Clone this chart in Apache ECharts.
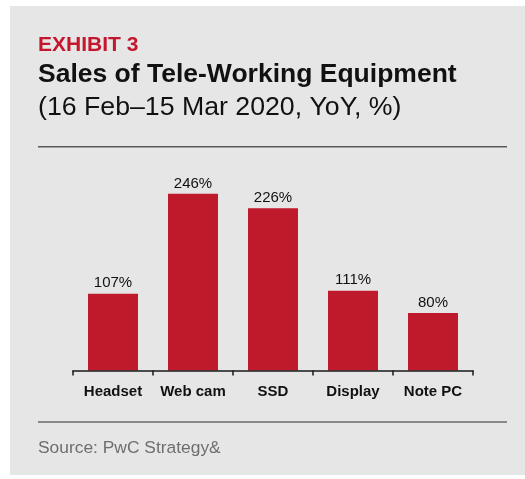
<!DOCTYPE html>
<html>
<head>
<meta charset="utf-8">
<style>
  html, body { margin: 0; padding: 0; background: #ffffff; }
  #chart { width: 525px; height: 479px; }
</style>
<script src="https://cdn.jsdelivr.net/npm/echarts@6/dist/echarts.min.js"></script>
</head>
<body>
<div id="chart"></div>
<script>
// Year-on-year sales growth of tele-working equipment, 16 Feb–15 Mar 2020
const categories = ['Headset', 'Web cam', 'SSD', 'Display', 'Note PC'];
const growthPct = [107, 246, 226, 111, 80];

const exhibitLabel = 'EXHIBIT 3';
const titleText = 'Sales of Tele-Working Equipment';
const subtitleText = '(16 Feb\u201315 Mar 2020, YoY, %)';
const sourceText = 'Source: PwC Strategy&';

const FONT = "'Liberation Sans', Arial, Helvetica, sans-serif";
const RED = '#be1a2c';

const chart = echarts.init(document.getElementById('chart'), null, { renderer: 'canvas' });

chart.setOption({
  animation: false,
  backgroundColor: '#ffffff',
  grid: { left: 73, right: 52, top: 191, bottom: 108.5, containLabel: false },
  xAxis: {
    type: 'category',
    data: categories,
    axisLine: { show: true, lineStyle: { color: '#1a1a1a', width: 1.5 } },
    axisTick: { show: true, interval: 0, length: 5, lineStyle: { color: '#1a1a1a', width: 1.5 } },
    axisLabel: {
      interval: 0,
      margin: 13.5,
      color: '#111111',
      fontFamily: FONT,
      fontWeight: 'bold',
      fontSize: 15
    },
    z: 5
  },
  yAxis: {
    type: 'value',
    min: 0,
    max: 250,
    show: false,
    splitLine: { show: false }
  },
  series: [{
    type: 'bar',
    data: growthPct,
    barWidth: 50,
    itemStyle: { color: RED },
    label: {
      show: true,
      position: 'top',
      distance: 3,
      formatter: '{c}%',
      color: '#111111',
      fontFamily: FONT,
      fontSize: 15
    }
  }],
  graphic: [
    {
      type: 'rect', z: -10, silent: true,
      shape: { x: 10, y: 6, width: 515, height: 469 },
      style: { fill: '#e6e6e6' }
    },
    {
      type: 'text', silent: true,
      style: { x: 38, y: 45.3, text: exhibitLabel, fill: '#c4172e',
               font: 'bold 21px ' + FONT, verticalAlign: 'middle' }
    },
    {
      type: 'text', silent: true,
      style: { x: 38, y: 74.2, text: titleText, fill: '#111111',
               font: 'bold 26.5px ' + FONT, verticalAlign: 'middle' }
    },
    {
      type: 'text', silent: true,
      style: { x: 38, y: 107.6, text: subtitleText, fill: '#111111',
               font: '26.7px ' + FONT, verticalAlign: 'middle' }
    },
    {
      type: 'line', silent: true,
      shape: { x1: 38, y1: 146.7, x2: 507, y2: 146.7 },
      style: { stroke: '#5a5a5a', lineWidth: 1.5 }
    },
    {
      type: 'line', silent: true,
      shape: { x1: 38, y1: 422, x2: 507, y2: 422 },
      style: { stroke: '#6a6a6a', lineWidth: 1.5 }
    },
    {
      type: 'text', silent: true,
      style: { x: 38, y: 448, text: sourceText, fill: '#6e6e6e',
               font: '17.4px ' + FONT, verticalAlign: 'middle' }
    }
  ]
});
</script>
</body>
</html>
